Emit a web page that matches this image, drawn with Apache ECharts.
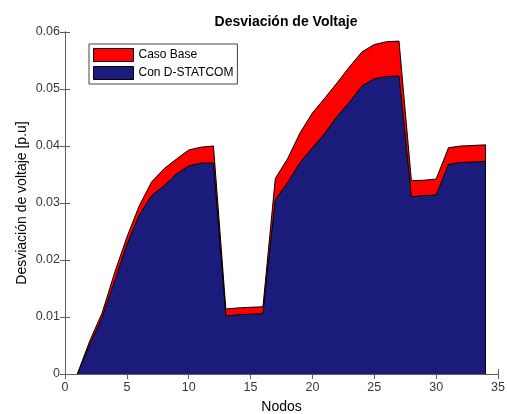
<!DOCTYPE html>
<html>
<head>
<meta charset="utf-8">
<script src="https://cdn.jsdelivr.net/npm/echarts@6/dist/echarts.min.js"></script>
<style>
  html, body { margin: 0; padding: 0; background: #fff; }
  #chart { width: 507px; height: 414px; }
</style>
</head>
<body>
<div id="chart"></div>
<script>
// Nodes of the feeder
const nodos = [1,2,3,4,5,6,7,8,9,10,11,12,13,14,15,16,17,18,19,20,21,22,23,24,25,26,27,28,29,30,31,32,33,34];

// Voltage deviation per node [p.u]
const casoBase = [0, 0.0058, 0.0107, 0.0177, 0.0240, 0.0295, 0.0337, 0.0360, 0.0377, 0.0393, 0.0398, 0.0400,
  0.0114, 0.0116, 0.0117, 0.0118, 0.0343, 0.0378, 0.0423, 0.0458, 0.0484, 0.0511, 0.0539, 0.0565,
  0.0578, 0.0583, 0.0584, 0.0339, 0.0340, 0.0342, 0.0397, 0.0400, 0.0401, 0.0402];
const conDStatcom = [0, 0.0051, 0.0099, 0.0162, 0.0227, 0.0279, 0.0313, 0.0330, 0.0351, 0.0365, 0.0370, 0.0370,
  0.0102, 0.0104, 0.0105, 0.0106, 0.0306, 0.0336, 0.0371, 0.0397, 0.0422, 0.0452, 0.0477, 0.0505,
  0.0518, 0.0522, 0.0523, 0.0311, 0.0313, 0.0314, 0.0368, 0.0371, 0.0372, 0.0373];

const xTicks = { min: 0, max: 35, interval: 5 };
const yTicks = { min: 0, max: 0.06, interval: 0.01 };

const FONT = '"Liberation Sans", Arial, Helvetica, sans-serif';
const AXIS_COLOR = '#5f5f5f';
const TEXT_COLOR = '#383838';

function pairs(vals) { return nodos.map((n, i) => [n, vals[i]]); }

// Closing vertical edge of each filled patch at the last node
function closingEdge(vals) {
  const last = nodos.length - 1;
  return {
    silent: true,
    symbol: ['none', 'none'],
    label: { show: false },
    lineStyle: { color: '#000', width: 1, type: 'solid' },
    data: [[{ coord: [nodos[last], 0] }, { coord: [nodos[last], vals[last]] }]]
  };
}

const chart = echarts.init(document.getElementById('chart'), null, { renderer: 'canvas' });

const tickCommon = {
  axisLine: { show: true, lineStyle: { color: AXIS_COLOR, width: 1 } },
  axisTick: { show: true, inside: true, length: 5, lineStyle: { color: AXIS_COLOR } },
  splitLine: { show: false }
};

chart.setOption({
  animation: false,
  backgroundColor: '#ffffff',
  title: {
    text: 'Desviación de Voltaje',
    left: 281,
    top: 10,
    textAlign: 'center',
    textStyle: { fontFamily: FONT, fontSize: 14, fontWeight: 'bold', color: '#000' }
  },
  grid: { left: 65, right: 9, top: 32, bottom: 40, containLabel: false, outerBoundsMode: 'none' },
  legend: {
    orient: 'vertical',
    left: 89,
    top: 44,
    padding: [4, 4, 4, 4],
    itemGap: 4,
    itemWidth: 40,
    itemHeight: 13,
    backgroundColor: '#ffffff',
    borderColor: '#444444',
    borderWidth: 1,
    textStyle: { fontFamily: FONT, fontSize: 12, color: '#000' },
    data: [
      { name: 'Caso Base', icon: 'rect', itemStyle: { color: '#ff0000', borderColor: '#000', borderWidth: 1 } },
      { name: 'Con D-STATCOM', icon: 'rect', itemStyle: { color: '#1b1b7b', borderColor: '#000', borderWidth: 1 } }
    ]
  },
  xAxis: [
    Object.assign({
      type: 'value',
      position: 'bottom',
      min: xTicks.min, max: xTicks.max, interval: xTicks.interval,
      name: 'Nodos',
      nameLocation: 'middle',
      nameGap: 26,
      nameTextStyle: { fontFamily: FONT, fontSize: 14, color: '#000' },
      axisLabel: { fontFamily: FONT, fontSize: 12.5, color: TEXT_COLOR, margin: 7 }
    }, tickCommon),
    Object.assign({
      type: 'value',
      position: 'top',
      min: xTicks.min, max: xTicks.max, interval: xTicks.interval,
      axisLabel: { show: false }
    }, tickCommon)
  ],
  yAxis: [
    Object.assign({
      type: 'value',
      position: 'left',
      min: yTicks.min, max: yTicks.max, interval: yTicks.interval,
      name: 'Desviación de voltaje [p.u]',
      nameLocation: 'middle',
      nameGap: 36,
      nameMoveOverlap: false,
      nameTextStyle: { fontFamily: FONT, fontSize: 14, color: '#000' },
      axisLabel: {
        fontFamily: FONT, fontSize: 12.5, color: TEXT_COLOR, margin: 5,
        formatter: v => (v === 0 ? '0' : v.toFixed(2))
      }
    }, tickCommon),
    Object.assign({
      type: 'value',
      position: 'right',
      min: yTicks.min, max: yTicks.max, interval: yTicks.interval,
      axisLabel: { show: false }
    }, tickCommon)
  ],
  series: [
    {
      name: 'Caso Base',
      type: 'line',
      xAxisIndex: 0, yAxisIndex: 0,
      data: pairs(casoBase),
      symbol: 'none',
      smooth: false,
      z: 2,
      lineStyle: { color: '#000', width: 1 },
      itemStyle: { color: '#ff0000' },
      areaStyle: { color: '#ff0000', opacity: 1, origin: 'start' },
      markLine: closingEdge(casoBase)
    },
    {
      name: 'Con D-STATCOM',
      type: 'line',
      xAxisIndex: 0, yAxisIndex: 0,
      data: pairs(conDStatcom),
      symbol: 'none',
      smooth: false,
      z: 3,
      lineStyle: { color: '#000', width: 1 },
      itemStyle: { color: '#1b1b7b' },
      areaStyle: { color: '#1b1b7b', opacity: 1, origin: 'start' },
      markLine: closingEdge(conDStatcom)
    }
  ]
});
</script>
</body>
</html>
